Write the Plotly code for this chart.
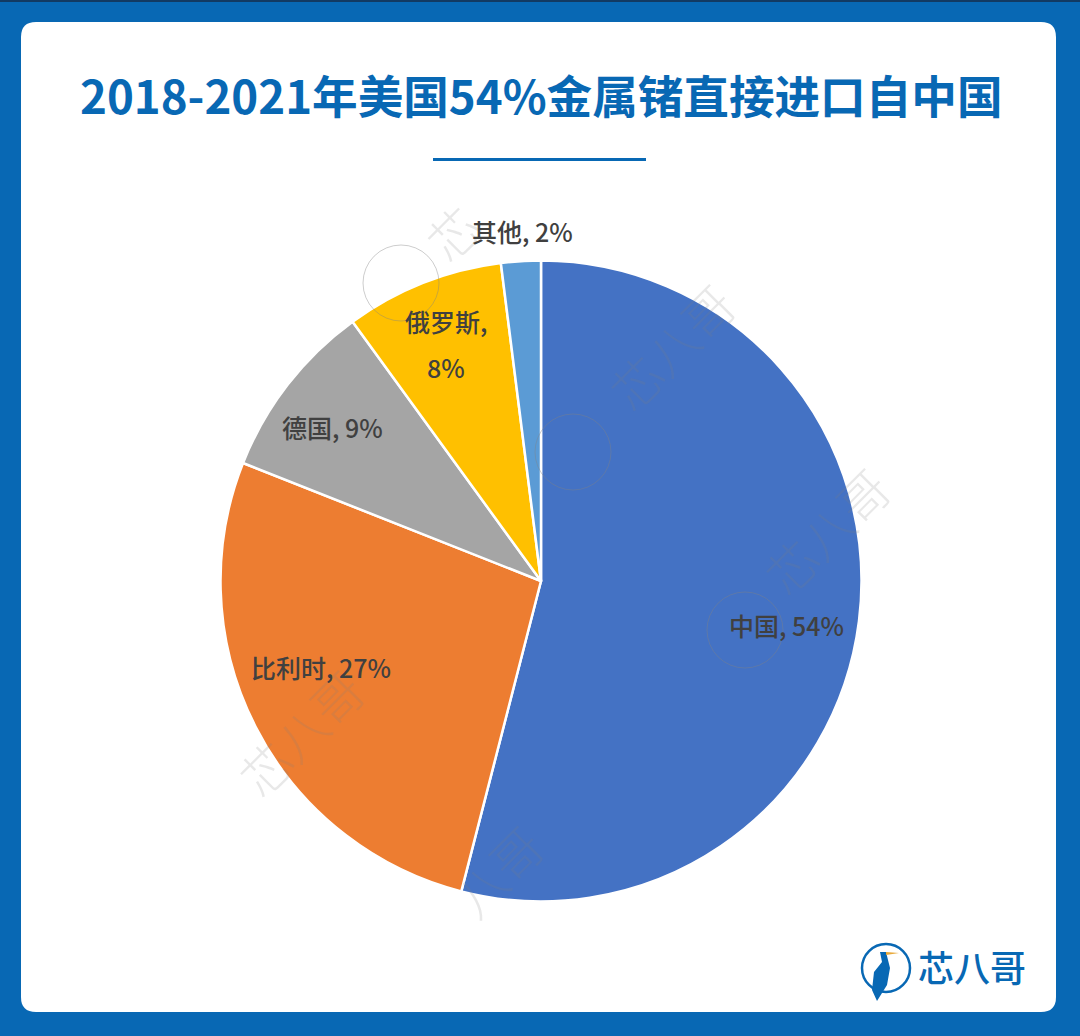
import plotly.express as px

W = 1080
H = 1036
BLUE = "#0868b4"
CJK = "Noto Sans CJK SC"

def x_frac(x):
    # pixel column to paper fraction
    return x / W

def y_frac(y):
    # pixel row to paper fraction, paper runs bottom up
    return 1 - y / H

def card_path(x0, y0, x1, y1, r):
    # rounded white card behind the pie
    return (f"M {x_frac(x0 + r)} {y_frac(y0)} L {x_frac(x1 - r)} {y_frac(y0)} "
            f"Q {x_frac(x1)} {y_frac(y0)} {x_frac(x1)} {y_frac(y0 + r)} "
            f"L {x_frac(x1)} {y_frac(y1 - r)} "
            f"Q {x_frac(x1)} {y_frac(y1)} {x_frac(x1 - r)} {y_frac(y1)} "
            f"L {x_frac(x0 + r)} {y_frac(y1)} "
            f"Q {x_frac(x0)} {y_frac(y1)} {x_frac(x0)} {y_frac(y1 - r)} "
            f"L {x_frac(x0)} {y_frac(y0 + r)} "
            f"Q {x_frac(x0)} {y_frac(y0)} {x_frac(x0 + r)} {y_frac(y0)} Z")

def poly_path(points):
    # closed outline from pixel points
    parts = [f"{x_frac(x)} {y_frac(y)}" for x, y in points]
    return "M " + " L ".join(parts) + " Z"

def add_text(fig, x, y, text, size, color, weight=500, angle=0):
    fig.add_annotation(x=x_frac(x), y=y_frac(y), xref="paper", yref="paper", text=text,
                       xanchor="center", yanchor="middle", showarrow=False, textangle=angle,
                       font=dict(family=CJK, size=size, color=color, weight=weight))

def add_circle(fig, cx, cy, r, color, width=1, layer="above"):
    fig.add_shape(type="circle", xref="paper", yref="paper", layer=layer,
                  x0=x_frac(cx - r), x1=x_frac(cx + r), y0=y_frac(cy + r), y1=y_frac(cy - r),
                  line=dict(color=color, width=width))

if __name__ == "__main__":

    names = ["中国", "比利时", "德国", "俄罗斯", "其他"]
    shares = [54, 27, 9, 8, 2]
    colors = ["#4472c4", "#ed7d31", "#a5a5a5", "#ffc000", "#5b9bd5"]

    # slices run clockwise from the top in the table order
    fig = px.pie(names=names, values=shares, color=names, color_discrete_sequence=colors)
    fig.update_traces(sort=False, direction="clockwise", rotation=0, textinfo="none",
                      hoverinfo="skip", marker=dict(line=dict(color="white", width=2.5)),
                      domain=dict(x=[x_frac(220.5), x_frac(861.5)], y=[y_frac(901.5), y_frac(260.5)]))
    fig.update_layout(width=W, height=H, margin=dict(l=0, r=0, t=0, b=0), showlegend=False,
                      paper_bgcolor=BLUE, font=dict(family=CJK))

    # dark top edge, card and the short rule under the title
    fig.add_shape(type="rect", xref="paper", yref="paper", layer="below",
                  x0=0, x1=1, y0=y_frac(2), y1=1, fillcolor="#123a63", line=dict(width=0))
    fig.add_shape(type="path", path=card_path(21, 22, 1056, 1012, 15), xref="paper", yref="paper",
                  fillcolor="white", line=dict(width=0), layer="below")
    fig.add_shape(type="rect", xref="paper", yref="paper", layer="below",
                  x0=x_frac(433), x1=x_frac(646), y0=y_frac(161), y1=y_frac(158),
                  fillcolor=BLUE, line=dict(width=0))

    # watermark
    for cx, cy in [(401, 283), (573, 452), (745, 630)]:
        add_circle(fig, cx, cy, 38, "rgba(130,130,130,0.4)")
    for x, y, text in [(452, 232, "芯"), (671, 346, "芯八哥"), (826, 530, "芯八哥"),
                       (300, 732, "芯八哥"), (497, 870, "八哥")]:
        add_text(fig, x, y, text, 50, "rgba(130,130,130,0.18)", weight=300, angle=-45)

    add_text(fig, 541, 94, "2018-2021年美国54%金属锗直接进口自中国", 45.6, BLUE, weight=700)

    # data labels
    label_color = "#404040"
    add_text(fig, 786, 625, "中国, 54%", 25, label_color)
    add_text(fig, 321, 667, "比利时, 27%", 25, label_color)
    add_text(fig, 332, 427, "德国, 9%", 25, label_color)
    add_text(fig, 446, 321, "俄罗斯,", 25, label_color)
    add_text(fig, 446, 367, "8%", 25, label_color)
    add_text(fig, 522, 231, "其他, 2%", 25, label_color)

    # logo: ring with a small bird, then the name
    add_circle(fig, 886, 968, 24, BLUE, width=2.5)
    fig.add_shape(type="path", xref="paper", yref="paper", layer="above", fillcolor=BLUE,
                  line=dict(width=0),
                  path=poly_path([(880, 952), (886, 952), (890, 968), (887, 985), (877, 1001),
                                  (872, 990), (874, 972), (882, 962)]))
    fig.add_shape(type="path", xref="paper", yref="paper", layer="above", fillcolor="#e8a93a",
                  line=dict(width=0), path=poly_path([(886, 952), (899, 953), (886, 955)]))
    add_text(fig, 972, 966, "芯八哥", 36, BLUE, weight=500)

    fig.write_html("out.html", config=dict(displayModeBar=False),
                   post_script="document.body.style.margin = '0';")
